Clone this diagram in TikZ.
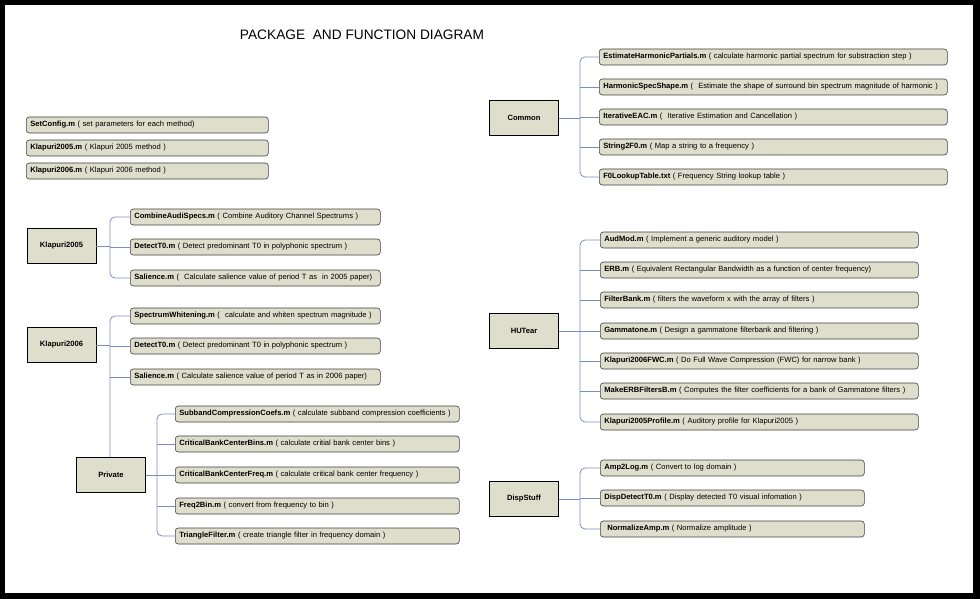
\documentclass[tikz,border=0pt]{standalone}
\usepackage{fontspec}
\setmainfont{Liberation Sans}
\definecolor{boxfill}{RGB}{221,222,203}
\definecolor{connc}{RGB}{120,142,190}
\newcommand\fn[2]{\textbf{#1} #2}
\begin{document}
\begin{tikzpicture}[x=1pt,y=-1pt,
  leaf/.style={draw=black!75, line width=0.6pt, fill=boxfill, rounded corners=3pt,
    inner xsep=4pt, inner ysep=0pt, minimum height=16pt, text width=#1, align=left,
    anchor=west, font=\fontsize{7.6}{8.5}\selectfont},
  pkg/.style={draw=black, line width=0.7pt, fill=boxfill, minimum width=69pt,
    minimum height=35pt, inner sep=0pt, font=\bfseries\fontsize{7.6}{8.5}\selectfont},
  conn/.style={draw=connc, line width=0.8pt},
  title/.style={font=\fontsize{13.7}{16}\selectfont}]
\fill[black] (0,0) rectangle (980,599);
\fill[white] (5,5) rectangle (973,593);
\useasboundingbox (0,0) rectangle (980,599);

\node[title] (t) at (362,35) {PACKAGE\ \ AND FUNCTION DIAGRAM};

% top-left standalone
\node[leaf=234pt] (s1) at (26,125) {\fn{SetConfig.m}{( set parameters for each method)}};
\node[leaf=234pt] (s2) at (26,148) {\fn{Klapuri2005.m}{( Klapuri 2005 method )}};
\node[leaf=234pt] (s3) at (26,171) {\fn{Klapuri2006.m}{( Klapuri 2006 method )}};

% packages
\node[pkg] (common) at (524,118) {Common};
\node[pkg] (k5) at (61.5,246) {Klapuri2005};
\node[pkg] (k6) at (61.5,345) {Klapuri2006};
\node[pkg] (priv) at (111,475) {Private};
\node[pkg] (hut) at (524,331) {HUTear};
\node[pkg] (disp) at (524,499) {DispStuff};

\coordinate (vc) at (580,0);
\coordinate (vk) at (110,0);
\coordinate (vp) at (157,0);

% Common
\node[leaf=340pt] (c1) at (599,57) {\fn{EstimateHarmonicPartials.m}{( calculate harmonic partial spectrum for substraction step )}};
\node[leaf=340pt] (c2) at (599,87) {\fn{HarmonicSpecShape.m}{(\ \ Estimate the shape of surround bin spectrum magnitude of harmonic )}};
\node[leaf=340pt] (c3) at (599,117) {\fn{IterativeEAC.m}{(\ \ Iterative Estimation and Cancellation )}};
\node[leaf=340pt] (c4) at (599,147) {\fn{String2F0.m}{( Map a string to a frequency )}};
\node[leaf=340pt] (c5) at (599,177) {\fn{F0LookupTable.txt}{( Frequency String lookup table )}};

% Klapuri2005
\node[leaf=242pt] (a1) at (130,217) {\fn{CombineAudiSpecs.m}{( Combine Auditory Channel Spectrums )}};
\node[leaf=242pt] (a2) at (130,247) {\fn{DetectT0.m}{( Detect predominant T0 in polyphonic spectrum )}};
\node[leaf=242pt] (a3) at (130,278) {\fn{Salience.m}{(\ \ Calculate salience value of period T as\ \ in 2005 paper)}};

% Klapuri2006
\node[leaf=242pt] (b1) at (130,316) {\fn{SpectrumWhitening.m}{(\ \ calculate and whiten spectrum magnitude )}};
\node[leaf=242pt] (b2) at (130,346) {\fn{DetectT0.m}{( Detect predominant T0 in polyphonic spectrum )}};
\node[leaf=242pt] (b3) at (130,377) {\fn{Salience.m}{( Calculate salience value of period T as in 2006 paper)}};

% Private
\node[leaf=276pt] (p1) at (175,414) {\fn{SubbandCompressionCoefs.m}{( calculate subband compression coefficients )}};
\node[leaf=276pt] (p2) at (175,444) {\fn{CriticalBankCenterBins.m}{( calculate critial bank center bins )}};
\node[leaf=276pt] (p3) at (175,475) {\fn{CriticalBankCenterFreq.m}{( calculate critical bank center frequency )}};
\node[leaf=276pt] (p4) at (175,506) {\fn{Freq2Bin.m}{( convert from frequency to bin )}};
\node[leaf=276pt] (p5) at (175,536) {\fn{TriangleFilter.m}{( create triangle filter in frequency domain )}};

% HUTear
\node[leaf=310pt] (h1) at (600,240) {\fn{AudMod.m}{( Implement a generic auditory model )}};
\node[leaf=310pt] (h2) at (600,270) {\fn{ERB.m}{( Equivalent Rectangular Bandwidth as a function of center frequency)}};
\node[leaf=310pt] (h3) at (600,300) {\fn{FilterBank.m}{( filters the waveform x with the array of filters )}};
\node[leaf=310pt] (h4) at (600,331) {\fn{Gammatone.m}{( Design a gammatone filterbank and filtering )}};
\node[leaf=310pt] (h5) at (600,361) {\fn{Klapuri2006FWC.m}{( Do Full Wave Compression (FWC) for narrow bank )}};
\node[leaf=310pt] (h6) at (600,391) {\fn{MakeERBFiltersB.m}{( Computes the filter coefficients for a bank of Gammatone filters )}};
\node[leaf=310pt] (h7) at (600,422) {\fn{Klapuri2005Profile.m}{( Auditory profile for Klapuri2005 )}};

% DispStuff
\node[leaf=256pt] (d1) at (600,468) {\fn{Amp2Log.m}{( Convert to log domain )}};
\node[leaf=256pt] (d2) at (600,498) {\fn{DispDetectT0.m}{( Display detected T0 visual infomation )}};
\node[leaf=256pt] (d3) at (600,529) {\hspace{3pt}\fn{NormalizeAmp.m}{( Normalize amplitude )}};

% connectors
\begin{scope}[conn]
\draw (common.east) -- (common.east -| vc);
\draw[rounded corners=5pt] (c1.west) -- (c1.west -| vc) -- (c5.west -| vc) -- (c5.west);
\foreach \n in {c2,c3,c4} \draw (\n.west -| vc) -- (\n.west);

\draw (hut.east) -- (hut.east -| vc);
\draw[rounded corners=5pt] (h1.west) -- (h1.west -| vc) -- (h7.west -| vc) -- (h7.west);
\foreach \n in {h2,h3,h4,h5,h6} \draw (\n.west -| vc) -- (\n.west);

\draw (disp.east) -- (disp.east -| vc);
\draw[rounded corners=5pt] (d1.west) -- (d1.west -| vc) -- (d3.west -| vc) -- (d3.west);
\draw (d2.west -| vc) -- (d2.west);

\draw (k5.east) -- (k5.east -| vk);
\draw[rounded corners=5pt] (a1.west) -- (a1.west -| vk) -- (a3.west -| vk) -- (a3.west);
\draw (a2.west -| vk) -- (a2.west);

\draw (k6.east) -- (k6.east -| vk);
\draw[rounded corners=5pt] (b1.west) -- (b1.west -| vk) -- (priv.north -| vk);
\foreach \n in {b2,b3} \draw (\n.west -| vk) -- (\n.west);

\draw (priv.east) -- (priv.east -| vp);
\draw[rounded corners=5pt] (p1.west) -- (p1.west -| vp) -- (p5.west -| vp) -- (p5.west);
\foreach \n in {p2,p3,p4} \draw (\n.west -| vp) -- (\n.west);
\end{scope}
\end{tikzpicture}
\end{document}
